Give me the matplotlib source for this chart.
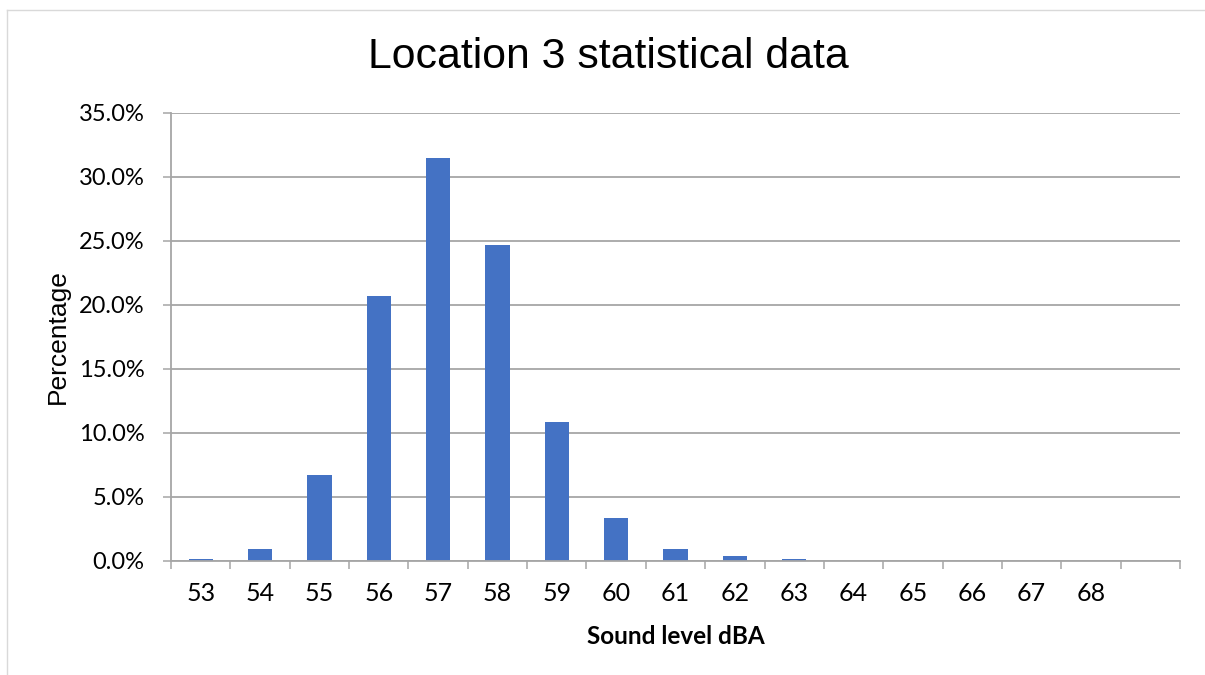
import matplotlib.pyplot as plt
from matplotlib.lines import Line2D
from matplotlib.ticker import FixedLocator, PercentFormatter
import numpy as np

# sound level bins (dBA); the last slot has no label
levels = ["53", "54", "55", "56", "57", "58", "59", "60", "61", "62", "63",
          "64", "65", "66", "67", "68", ""]
share = [0.1, 0.94, 6.7, 20.7, 31.5, 24.7, 10.8, 3.3, 0.91, 0.34, 0.13,
         0.0, 0.0, 0.0, 0.0, 0.0, 0.0]
y_ticks = [0, 5, 10, 15, 20, 25, 30, 35]

bar_color = "#4472C4"
grid_color = "#A6A6A6"
tick_font = "Lato"

fig = plt.figure(figsize=(12.05, 6.75), dpi=100)
W, H = 1205, 675
ax = fig.add_axes([171 / W, 1 - 560.7 / H, (1180 - 171) / W, (560.7 - 112.7) / H])

x = np.arange(len(levels))
ax.bar(x, share, width=0.41, color=bar_color, zorder=3)

ax.set_xlim(-0.5, len(levels) - 0.5)
ax.set_ylim(0, 35)

# y axis: gridlines and percentage labels
ax.yaxis.set_major_locator(FixedLocator(y_ticks))
ax.yaxis.set_major_formatter(PercentFormatter(decimals=1))
ax.grid(axis="y", color=grid_color, linewidth=1.3, zorder=0)
ax.tick_params(axis="y", length=6, width=1.1, color=grid_color, pad=13,
               labelsize=17, labelcolor="#000000")

# x axis: tick marks on bin edges, labels on bin centres
ax.xaxis.set_major_locator(FixedLocator(np.arange(-0.5, len(levels), 1.0)))
ax.xaxis.set_minor_locator(FixedLocator(x))
ax.set_xticklabels([], minor=False)
ax.set_xticklabels(levels, minor=True)
ax.tick_params(axis="x", which="major", length=6, width=1.1, color=grid_color)
ax.tick_params(axis="x", which="minor", length=0, pad=15, labelsize=18)

for lbl in ax.get_yticklabels() + ax.get_xticklabels(minor=True):
    lbl.set_fontfamily(tick_font)

for side in ["top", "right"]:
    ax.spines[side].set_visible(False)
for side in ["left", "bottom"]:
    ax.spines[side].set_color(grid_color)
    ax.spines[side].set_linewidth(1.3)
    ax.spines[side].set_zorder(4)

fig.text(608 / W, 1 - 57 / H, "Location 3 statistical data",
         ha="center", va="center", fontsize=30.8, family="Liberation Sans")
fig.text(58 / W, 1 - 337 / H, "Percentage", rotation=90,
         ha="center", va="center", fontsize=19, family="Liberation Sans")
fig.text(676 / W, 1 - 636 / H, "Sound level dBA", ha="center", va="center",
         fontsize=17.5, fontweight="bold", family=tick_font)

# outer chart frame
frame = "#D9D9D9"
fig.add_artist(Line2D([7 / W, 7 / W], [0, 1 - 10 / H], color=frame, linewidth=1.0))
fig.add_artist(Line2D([7 / W, 1], [1 - 10 / H, 1 - 10 / H], color=frame, linewidth=1.0))

fig.savefig("out.png", dpi=100)
